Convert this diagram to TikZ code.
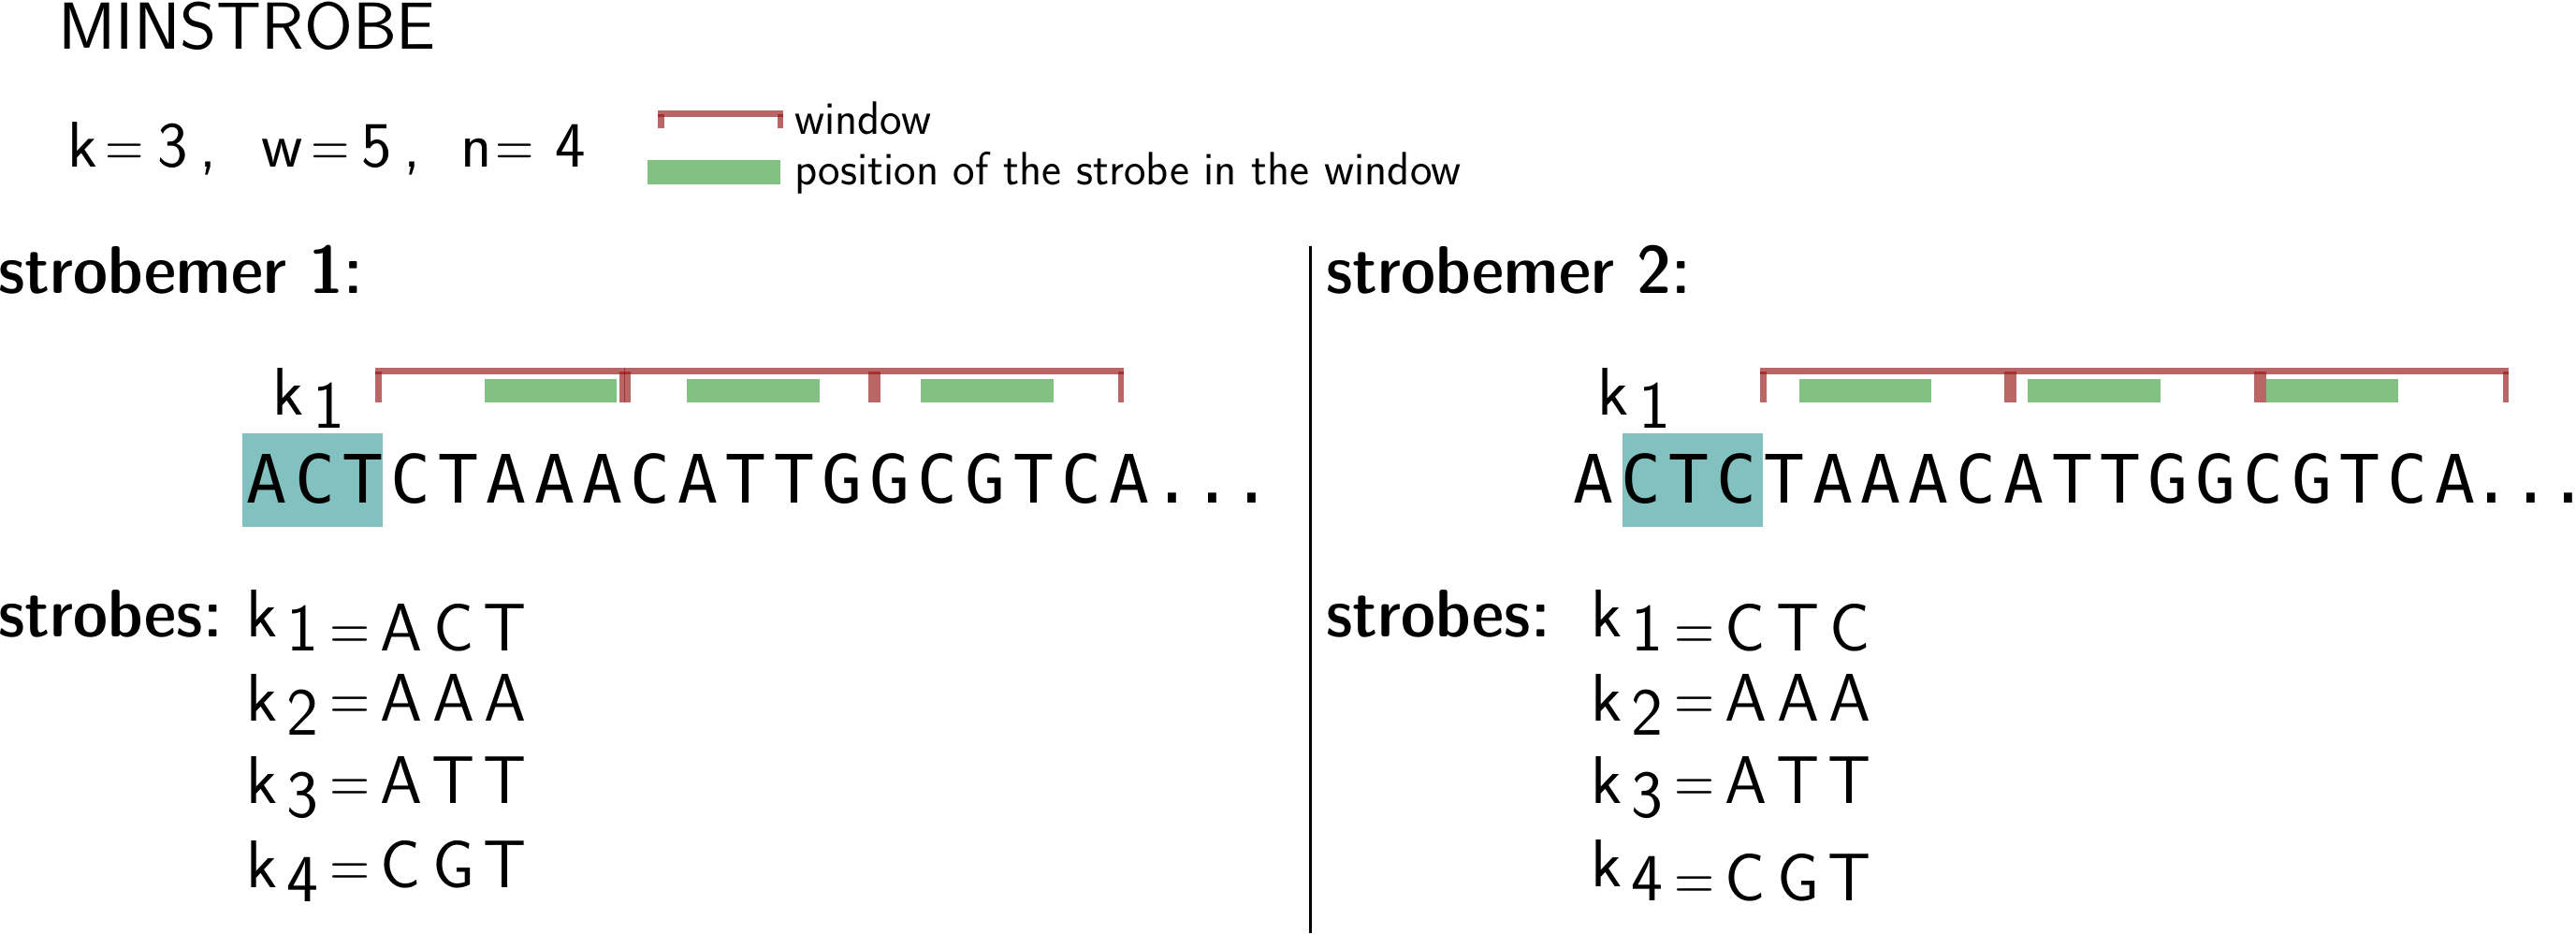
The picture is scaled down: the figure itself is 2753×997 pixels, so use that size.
\documentclass[tikz,border=0pt]{standalone}
\usepackage{fontspec}
\usepackage{graphicx}
\newfontfamily\seqfont{DejaVu Sans Mono}
\definecolor{winred}{RGB}{150,20,20}
\definecolor{posgreen}{RGB}{131,193,131}
\definecolor{kteal}{RGB}{131,193,193}
\newcommand\comma{,}
\newcommand\eqs{\scalebox{0.82}[1]{=}}
\newcommand\hwide[1]{\scalebox{1.08}[1]{#1}}
\tikzset{
  winbar/.style={fill=winred, fill opacity=0.65},
  posbox/.style={fill=posgreen},
  seqch/.style={font=\seqfont\fontsize{71.3}{80}\selectfont, anchor=base, inner sep=0pt},
  bigch/.style={font=\sffamily\fontsize{72}{80}\selectfont, anchor=base, inner sep=0pt},
  parch/.style={font=\sffamily\fontsize{69}{80}\selectfont, anchor=base, inner sep=0pt},
  headtext/.style={font=\sffamily\fontseries{sbc}\fontsize{72}{80}\selectfont, anchor=base west, inner sep=0pt},
  titletext/.style={font=\sffamily\fontsize{71}{80}\selectfont, anchor=base west, inner sep=0pt},
  legtext/.style={font=\sffamily\fontsize{50}{56}\selectfont, anchor=base west, inner sep=0pt},
}
\newcommand\windowbr[2]{%
  \fill[winbar] (#1,393) rectangle (#2,400);
  \fill[winbar] (#1,396.5) rectangle ({#1+6.5},430);
  \fill[winbar] ({#2-6.5},396.5) rectangle (#2,430);}
\newcommand\srow[8]{%
  \node[bigch] (#1k) at ({280+#2},#3) {k};
  \node[bigch] (#1d) at ({323+#2},{#3+15}) {#4};
  \node[bigch] (#1e) at ({374+#2},{#3+#5}) {\eqs};
  \node[bigch] (#1a) at ({428.5+#2},{#3+#5}) {#6};
  \node[bigch] (#1b) at ({485+#2},{#3+#5}) {#7};
  \node[bigch] (#1c) at ({540+#2},{#3+#5}) {#8};}
\begin{document}
\begin{tikzpicture}[x=1pt,y=-1pt]
\useasboundingbox (0,0) rectangle (2753,997);
% title and parameters
\node[titletext] (title) at (62,52) {\scalebox{1.055}[1]{MINSTROBE}};
\foreach \c/\x [count=\i] in {k/88.5, \eqs/133, 3/185, \comma/222.5, w/301.5, \eqs/353, 5/403, \comma/440, n/509, \eqs/550, 4/609.5}
  \node[parch] (par\i) at (\x,178) {\c};
% legend
\fill[winbar] (703,118) rectangle (837,125);
\fill[winbar] (703,121.5) rectangle (709.5,137);
\fill[winbar] (830.5,121.5) rectangle (837,137);
\node[legtext] (legwin) at (849,143) {window};
\fill[posbox] (692,171) rectangle (834,197);
\node[legtext] (legpos) at (849,197) {position of the strobe in the window};
% divider
\draw[line width=3pt] (1400,263) -- (1400,997);
% headings
\node[headtext] (h1) at (-2,313) {\hwide{strobemer 1:}};
\node[headtext] (h2) at (1417,313) {\hwide{strobemer 2:}};
\node[headtext] (s1) at (-2,680) {\hwide{strobes:}};
\node[headtext] (s2) at (1417,680) {\hwide{strobes:}};
% left panel
\fill[kteal] (259,463) rectangle (409,563);
\windowbr{401}{668}
\windowbr{667}{934}
\windowbr{934}{1201}
\fill[posbox] (518,405) rectangle (659,430);
\fill[posbox] (734,405) rectangle (876,430);
\fill[posbox] (984,405) rectangle (1126,430);
\node[bigch] (ka) at (307.5,443) {k};
\node[bigch] (kad) at (351.5,457) {1};
\foreach \c [count=\i from 0] in {A,C,T,C,T,A,A,A,C,A,T,T,G,G,C,G,T,C,A}
  \node[seqch] (la\i) at ({285.3+51.2*\i},537) {\c};
\foreach \x [count=\i] in {1253,1296,1338}
  \node[seqch] (lad\i) at (\x,537) {.};
% right panel
\fill[kteal] (1734,463) rectangle (1884,563);
\windowbr{1881}{2148}
\windowbr{2148}{2415}
\windowbr{2415}{2681}
\fill[posbox] (1923,405) rectangle (2064,430);
\fill[posbox] (2167,405) rectangle (2309,430);
\fill[posbox] (2422,405) rectangle (2563,430);
\node[bigch] (kb) at (1724,443) {k};
\node[bigch] (kbd) at (1768.5,457) {1};
\foreach \c [count=\i from 0] in {A,C,T,C,T,A,A,A,C,A,T,T,G,G,C,G,T,C,A}
  \node[seqch] (lb\i) at ({1702.5+51.2*\i},537) {\c};
\foreach \x [count=\i] in {2663,2705,2745}
  \node[seqch] (lbd\i) at (\x,537) {.};
% strobe lists
\srow{la1}{0}{680}{1}{15}{A}{C}{T}
\srow{la2}{0}{770}{2}{0}{A}{A}{A}
\srow{la3}{0}{858}{3}{0}{A}{T}{T}
\srow{la4}{0}{948}{4}{0}{C}{G}{T}
\srow{lb1}{1437}{680}{1}{15}{C}{T}{C}
\srow{lb2}{1437}{770}{2}{0}{A}{A}{A}
\srow{lb3}{1437}{858}{3}{0}{A}{T}{T}
\srow{lb4}{1437}{947}{4}{15}{C}{G}{T}
\end{tikzpicture}
\end{document}
